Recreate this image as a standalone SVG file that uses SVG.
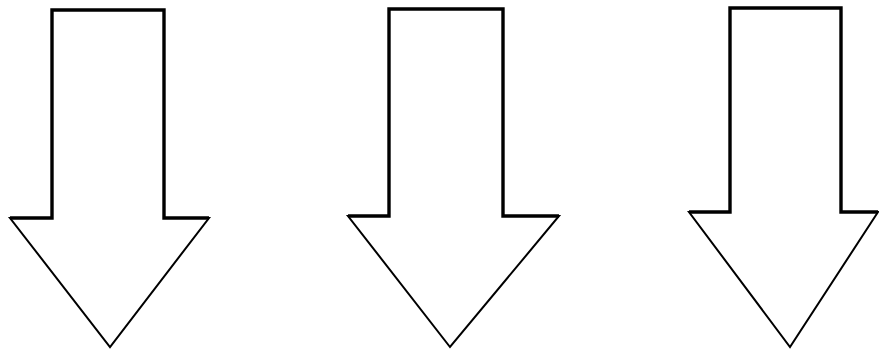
<svg xmlns="http://www.w3.org/2000/svg" width="879" height="354" viewBox="0 0 879 354">
<style>
.arrow{fill:#fff;stroke:#000;stroke-width:2;stroke-linejoin:miter}
.shaft{fill:none;stroke:#000;stroke-width:3.4;stroke-linejoin:miter}
</style>
<rect width="879" height="354" fill="#fff"/>
<g id="arrow1"><polygon class="arrow" points="52,10 164,10 164,218 209,218 110,347 10,218 52,218"/><polyline class="shaft" points="10,218 52,218 52,10 164,10 164,218 209,218"/></g>
<g id="arrow2"><polygon class="arrow" points="389,9 503,9 503,216 559,216 450,347 348,216 389,216"/><polyline class="shaft" points="348,216 389,216 389,9 503,9 503,216 559,216"/></g>
<g id="arrow3"><polygon class="arrow" points="730,8 841,8 841,212 878,212 790,347 689,212 730,212"/><polyline class="shaft" points="689,212 730,212 730,8 841,8 841,212 878,212"/></g>
<g id="connectors"></g>
</svg>
